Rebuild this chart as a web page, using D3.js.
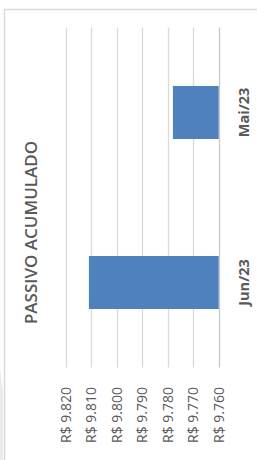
<!DOCTYPE html>
<html>
<head>
<meta charset="utf-8">
<script src="https://cdn.jsdelivr.net/npm/d3@7"></script>
<style>
  html, body { margin: 0; padding: 0; background: #fff; }
  svg { display: block; }
  text { font-family: "Open Sans", sans-serif; fill: #595959; }
</style>
</head>
<body>
<script>
var categories = ["Jun/23", "Mai/23"];
var values = [9811, 9778];
var tickValues = [9760, 9770, 9780, 9790, 9800, 9810, 9820];
var titleText = "PASSIVO ACUMULADO";

var W = 257, H = 460;

var brl = d3.formatLocale({ decimal: ",", thousands: ".", grouping: [3], currency: ["R$ ", ""] });
var fmt = function(d) { return "R$ " + brl.format(",.0f")(d); };

var svg = d3.select("body").append("svg")
    .attr("width", W)
    .attr("height", H);

// chart area border (top + left visible)
svg.append("path")
    .attr("d", "M4.5,460 L4.5,9.5 L257,9.5")
    .attr("fill", "none")
    .attr("stroke", "#d9d9d9")
    .attr("stroke-width", 1.5);

svg.append("path")
    .attr("d", "M0,368 L3,392 L3,460 L0,460 Z")
    .attr("fill", "#ececec");

// the whole chart is a column chart turned 90deg counterclockwise
var g = svg.append("g")
    .attr("transform", "translate(0," + H + ") rotate(-90)");

var x = d3.scaleBand()
    .domain(categories)
    .range([92.5, 432.5])
    .paddingInner(0.688)
    .paddingOuter(0.344);

var y = d3.scaleLinear()
    .domain([9760, 9820])
    .range([218.7, 66]);

// gridlines
g.selectAll("line.grid")
    .data(tickValues)
    .enter()
    .append("line")
    .attr("class", "grid")
    .attr("x1", 92.5)
    .attr("x2", 432.5)
    .attr("y1", function(d) { return Math.round(y(d)) + 0.5; })
    .attr("y2", function(d) { return Math.round(y(d)) + 0.5; })
    .attr("stroke", function(d) { return d === 9760 ? "#c8c8c8" : "#d9d9d9"; })
    .attr("stroke-width", 1.3);

// bars
g.selectAll("rect.bar")
    .data(values)
    .enter()
    .append("rect")
    .attr("class", "bar")
    .attr("x", function(d, i) { return x(categories[i]); })
    .attr("width", x.bandwidth())
    .attr("y", function(d) { return y(d); })
    .attr("height", function(d) { return y(9760) - y(d); })
    .attr("fill", "#4f81bd");

// value labels (left axis)
g.selectAll("text.tick")
    .data(tickValues)
    .enter()
    .append("text")
    .attr("class", "tick")
    .attr("x", 73)
    .attr("y", function(d) { return y(d); })
    .attr("dy", "0.35em")
    .attr("text-anchor", "end")
    .style("font-size", "14px")
    .text(fmt);

// category labels
g.selectAll("text.cat")
    .data(categories)
    .enter()
    .append("text")
    .attr("class", "cat")
    .attr("x", function(d) { return x(d) + x.bandwidth() / 2; })
    .attr("y", 244)
    .attr("dy", "0.35em")
    .attr("text-anchor", "middle")
    .style("font-size", "14.5px")
    .style("font-weight", "bold")
    .text(function(d) { return d; });

// title
g.append("text")
    .attr("x", 227.5)
    .attr("y", 31)
    .attr("dy", "0.35em")
    .attr("text-anchor", "middle")
    .style("font-size", "17px")
    .style("font-weight", "600")
    .text(titleText);
</script>
</body>
</html>
